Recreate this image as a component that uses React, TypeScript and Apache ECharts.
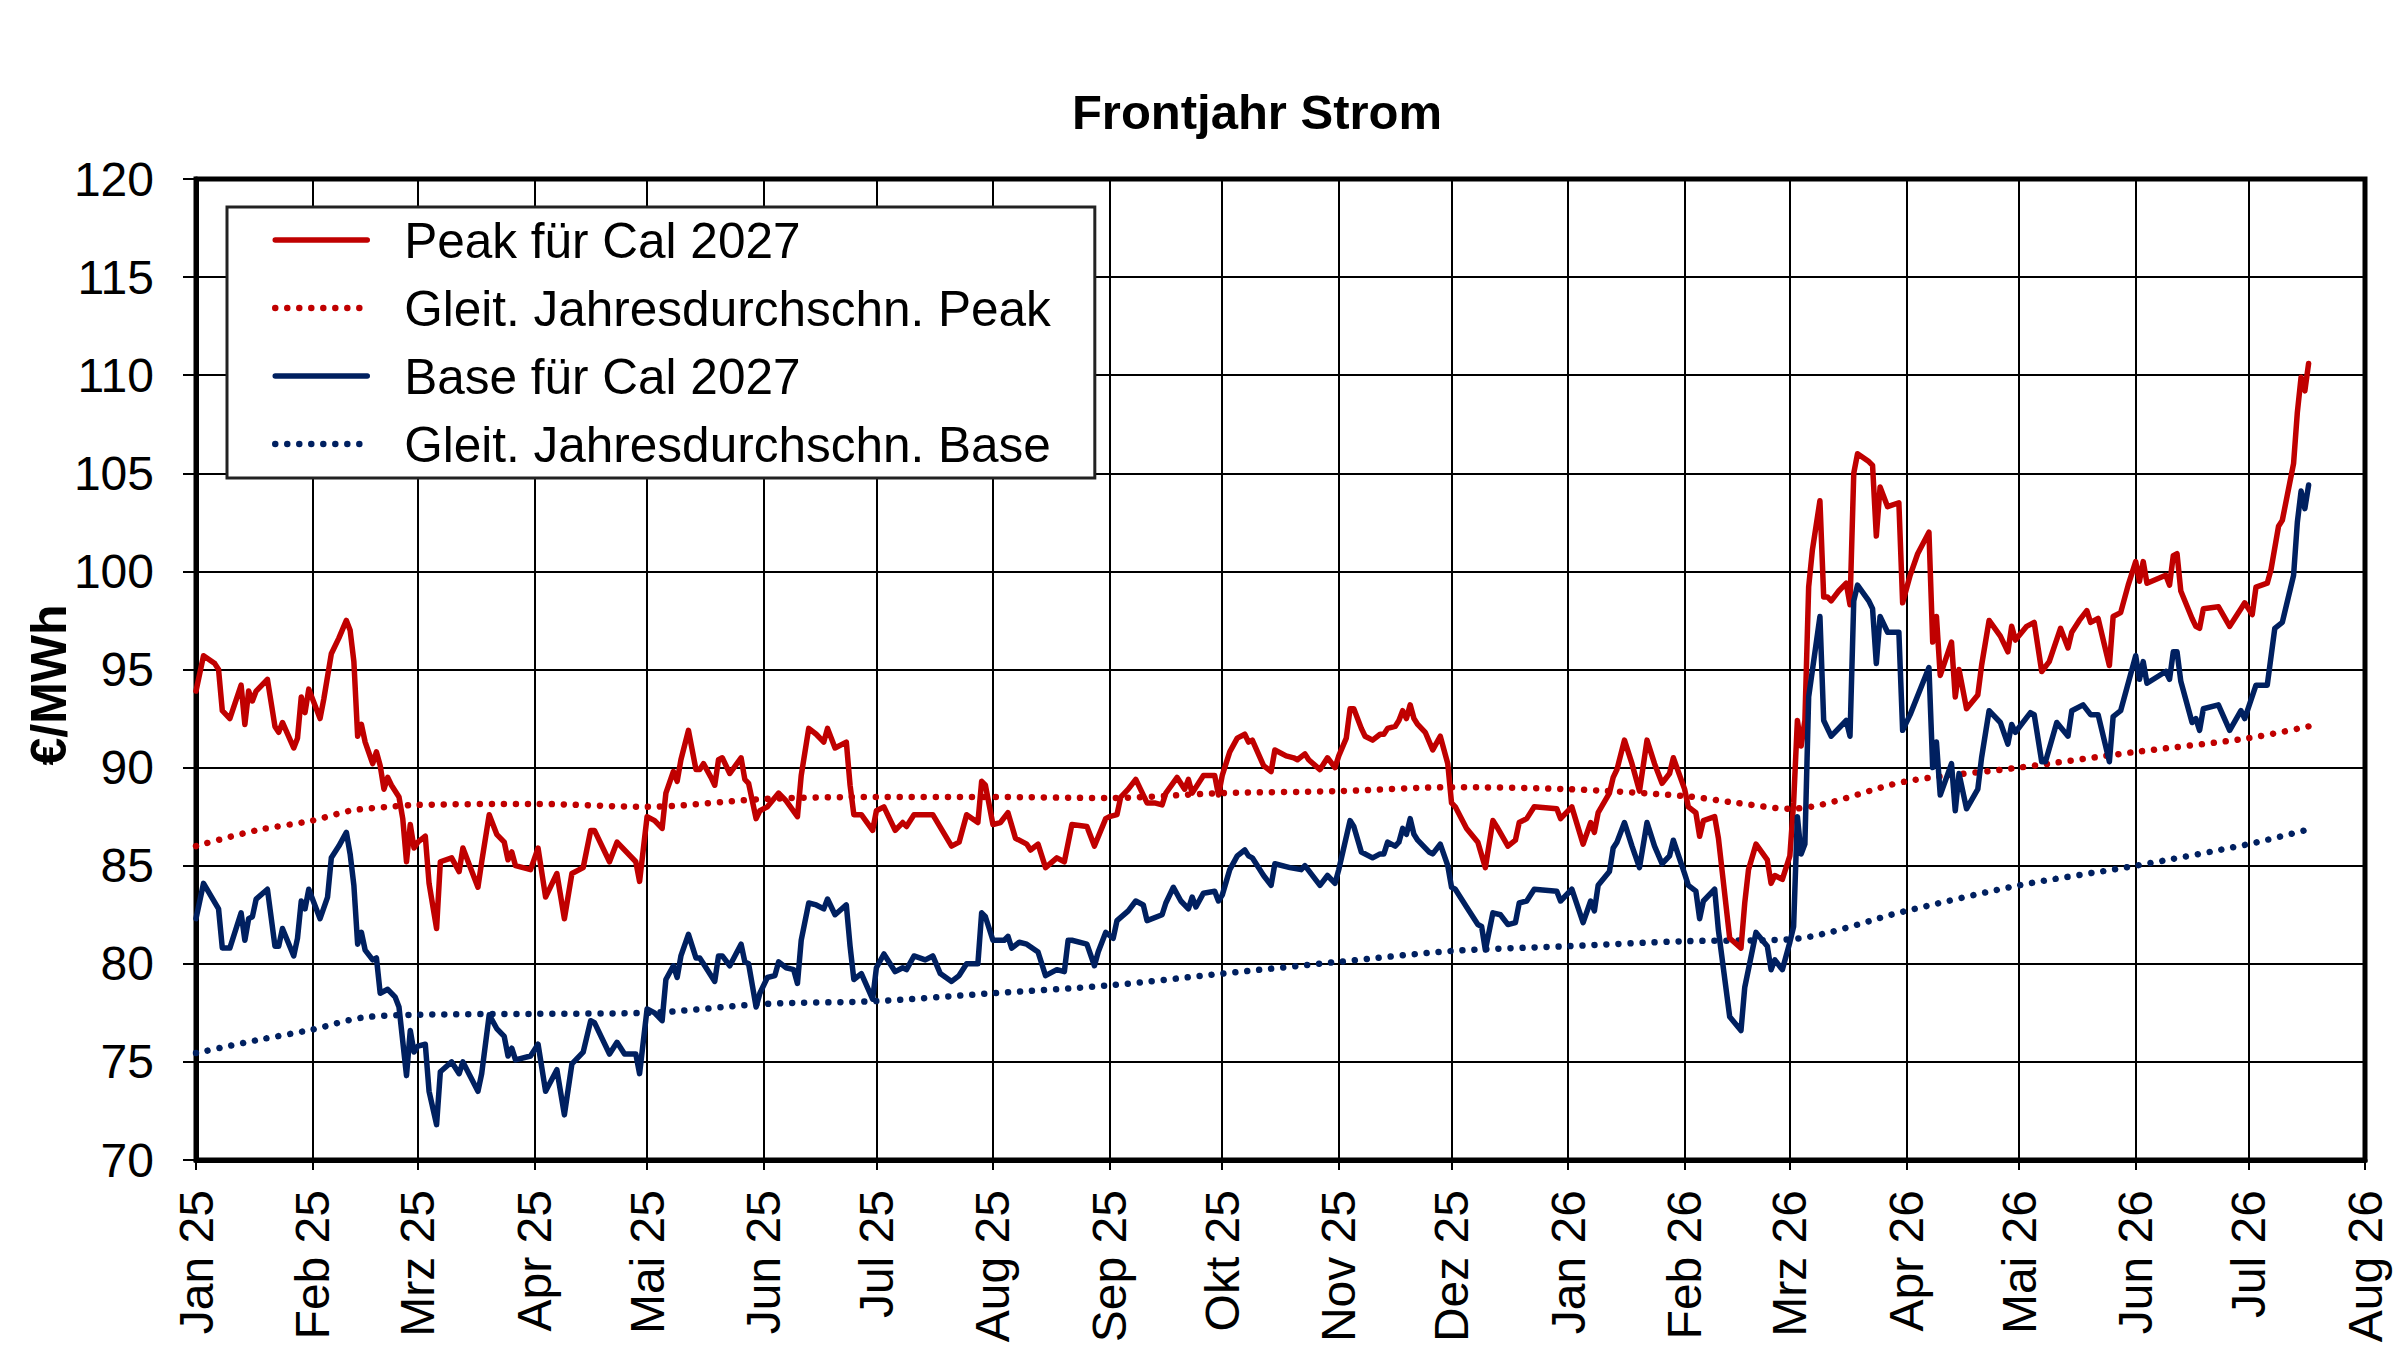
import React, { useEffect, useRef } from 'react';
import * as echarts from 'echarts';

const FONT = '"Liberation Sans", Arial, Helvetica, sans-serif';
const TITLE = 'Frontjahr Strom';
const Y_NAME = '€/MWh';
const MONTHS = ['Jan', 'Feb', 'Mrz', 'Apr', 'Mai', 'Jun', 'Jul', 'Aug', 'Sep', 'Okt', 'Nov', 'Dez'];
const SERIES_NAMES = [
  'Peak für Cal 2027',
  'Gleit. Jahresdurchschn. Peak',
  'Base für Cal 2027',
  'Gleit. Jahresdurchschn. Base',
];
const X_MIN = '2025-01-01';
const X_MAX = '2026-08-01';
const Y_MIN = 70;
const Y_MAX = 120;
const Y_STEP = 5;

const PEAK: [string, number][] = [
  ['2025-01-01', 93.9], ['2025-01-03', 95.7], ['2025-01-06', 95.3], ['2025-01-07', 95.0], ['2025-01-08', 92.9],
  ['2025-01-10', 92.5], ['2025-01-13', 94.2], ['2025-01-14', 92.2], ['2025-01-15', 93.9], ['2025-01-16', 93.4],
  ['2025-01-17', 93.9], ['2025-01-20', 94.5], ['2025-01-22', 92.1], ['2025-01-23', 91.8], ['2025-01-24', 92.3],
  ['2025-01-27', 91.0], ['2025-01-28', 91.5], ['2025-01-29', 93.6], ['2025-01-30', 92.8], ['2025-01-31', 94.0],
  ['2025-02-03', 92.5], ['2025-02-04', 93.5], ['2025-02-06', 95.8], ['2025-02-08', 96.6], ['2025-02-10', 97.5],
  ['2025-02-11', 97.0], ['2025-02-12', 95.4], ['2025-02-13', 91.6], ['2025-02-14', 92.2], ['2025-02-15', 91.3],
  ['2025-02-17', 90.2], ['2025-02-18', 90.8], ['2025-02-19', 90.1], ['2025-02-20', 88.9], ['2025-02-21', 89.5],
  ['2025-02-22', 89.1], ['2025-02-24', 88.5], ['2025-02-25', 87.4], ['2025-02-26', 85.2], ['2025-02-27', 87.1],
  ['2025-02-28', 85.9], ['2025-03-01', 86.2], ['2025-03-03', 86.5], ['2025-03-04', 84.1], ['2025-03-06', 81.8],
  ['2025-03-07', 85.2], ['2025-03-10', 85.4], ['2025-03-12', 84.7], ['2025-03-13', 85.9], ['2025-03-17', 83.9],
  ['2025-03-18', 85.2], ['2025-03-20', 87.6], ['2025-03-22', 86.6], ['2025-03-24', 86.2], ['2025-03-25', 85.3],
  ['2025-03-26', 85.7], ['2025-03-27', 85.0], ['2025-03-31', 84.8], ['2025-04-02', 85.9], ['2025-04-04', 83.4],
  ['2025-04-07', 84.6], ['2025-04-09', 82.3], ['2025-04-11', 84.6], ['2025-04-14', 84.9], ['2025-04-16', 86.8],
  ['2025-04-17', 86.8], ['2025-04-21', 85.2], ['2025-04-23', 86.2], ['2025-04-28', 85.2], ['2025-04-29', 84.2],
  ['2025-05-01', 87.5], ['2025-05-03', 87.3], ['2025-05-05', 86.9], ['2025-05-06', 88.7], ['2025-05-08', 89.8],
  ['2025-05-09', 89.3], ['2025-05-10', 90.4], ['2025-05-12', 91.9], ['2025-05-14', 89.9], ['2025-05-15', 89.9],
  ['2025-05-16', 90.2], ['2025-05-18', 89.5], ['2025-05-19', 89.1], ['2025-05-20', 90.4], ['2025-05-21', 90.5],
  ['2025-05-23', 89.7], ['2025-05-26', 90.5], ['2025-05-27', 89.4], ['2025-05-28', 89.2], ['2025-05-30', 87.4],
  ['2025-05-31', 87.8], ['2025-06-02', 88.0], ['2025-06-05', 88.7], ['2025-06-07', 88.3], ['2025-06-10', 87.5],
  ['2025-06-11', 89.6], ['2025-06-13', 92.0], ['2025-06-15', 91.7], ['2025-06-17', 91.3], ['2025-06-18', 92.0],
  ['2025-06-20', 91.0], ['2025-06-23', 91.3], ['2025-06-24', 89.1], ['2025-06-25', 87.6], ['2025-06-27', 87.6],
  ['2025-06-30', 86.8], ['2025-07-01', 87.8], ['2025-07-03', 88.0], ['2025-07-06', 86.8], ['2025-07-08', 87.2],
  ['2025-07-09', 87.0], ['2025-07-11', 87.6], ['2025-07-16', 87.6], ['2025-07-21', 86.0], ['2025-07-23', 86.2],
  ['2025-07-25', 87.6], ['2025-07-28', 87.2], ['2025-07-29', 89.3], ['2025-07-30', 89.1], ['2025-08-01', 87.1],
  ['2025-08-03', 87.2], ['2025-08-05', 87.7], ['2025-08-07', 86.4], ['2025-08-10', 86.1], ['2025-08-11', 85.8],
  ['2025-08-13', 86.1], ['2025-08-15', 84.9], ['2025-08-18', 85.4], ['2025-08-20', 85.2], ['2025-08-22', 87.1],
  ['2025-08-26', 87.0], ['2025-08-28', 86.0], ['2025-08-31', 87.4], ['2025-09-01', 87.5], ['2025-09-03', 87.6],
  ['2025-09-04', 88.5], ['2025-09-06', 88.9], ['2025-09-08', 89.4], ['2025-09-11', 88.2], ['2025-09-13', 88.2],
  ['2025-09-15', 88.1], ['2025-09-16', 88.7], ['2025-09-19', 89.5], ['2025-09-21', 88.9], ['2025-09-22', 89.4],
  ['2025-09-23', 88.7], ['2025-09-26', 89.6], ['2025-09-29', 89.6], ['2025-09-30', 88.6], ['2025-10-01', 89.6],
  ['2025-10-03', 90.8], ['2025-10-05', 91.5], ['2025-10-07', 91.7], ['2025-10-08', 91.3], ['2025-10-09', 91.4],
  ['2025-10-12', 90.1], ['2025-10-14', 89.8], ['2025-10-15', 90.9], ['2025-10-18', 90.6], ['2025-10-20', 90.5],
  ['2025-10-21', 90.4], ['2025-10-23', 90.7], ['2025-10-24', 90.4], ['2025-10-27', 89.9], ['2025-10-29', 90.5],
  ['2025-10-31', 90.0], ['2025-11-01', 90.6], ['2025-11-03', 91.5], ['2025-11-04', 93.0], ['2025-11-05', 93.0],
  ['2025-11-07', 92.0], ['2025-11-08', 91.6], ['2025-11-10', 91.4], ['2025-11-12', 91.7], ['2025-11-13', 91.7],
  ['2025-11-14', 92.0], ['2025-11-16', 92.1], ['2025-11-17', 92.4], ['2025-11-18', 92.9], ['2025-11-19', 92.5],
  ['2025-11-20', 93.2], ['2025-11-21', 92.5], ['2025-11-22', 92.2], ['2025-11-24', 91.8], ['2025-11-26', 90.9],
  ['2025-11-28', 91.6], ['2025-11-29', 90.9], ['2025-11-30', 90.2], ['2025-12-01', 88.2], ['2025-12-02', 88.0],
  ['2025-12-05', 86.9], ['2025-12-08', 86.2], ['2025-12-10', 84.9], ['2025-12-12', 87.3], ['2025-12-13', 87.0],
  ['2025-12-16', 86.0], ['2025-12-18', 86.3], ['2025-12-19', 87.2], ['2025-12-21', 87.4], ['2025-12-23', 88.0],
  ['2025-12-29', 87.9], ['2025-12-30', 87.4], ['2026-01-02', 88.0], ['2026-01-05', 86.1], ['2026-01-07', 87.2],
  ['2026-01-08', 86.7], ['2026-01-09', 87.7], ['2026-01-12', 88.7], ['2026-01-13', 89.5], ['2026-01-14', 89.9],
  ['2026-01-16', 91.4], ['2026-01-18', 90.2], ['2026-01-20', 88.8], ['2026-01-22', 91.4], ['2026-01-24', 90.2],
  ['2026-01-26', 89.2], ['2026-01-28', 89.7], ['2026-01-29', 90.5], ['2026-02-01', 88.9], ['2026-02-02', 88.0],
  ['2026-02-04', 87.7], ['2026-02-05', 86.5], ['2026-02-06', 87.3], ['2026-02-09', 87.5], ['2026-02-10', 86.4],
  ['2026-02-13', 81.3], ['2026-02-16', 80.8], ['2026-02-17', 83.1], ['2026-02-18', 84.8], ['2026-02-20', 86.1],
  ['2026-02-23', 85.3], ['2026-02-24', 84.1], ['2026-02-25', 84.5], ['2026-02-27', 84.3], ['2026-03-01', 85.5],
  ['2026-03-02', 88.2], ['2026-03-03', 92.4], ['2026-03-04', 91.1], ['2026-03-05', 92.4], ['2026-03-06', 99.2],
  ['2026-03-07', 101.1], ['2026-03-09', 103.6], ['2026-03-10', 98.7], ['2026-03-11', 98.7], ['2026-03-12', 98.5],
  ['2026-03-14', 99.0], ['2026-03-16', 99.4], ['2026-03-17', 98.3], ['2026-03-18', 105.0], ['2026-03-19', 106.0],
  ['2026-03-22', 105.6], ['2026-03-23', 105.4], ['2026-03-24', 101.8], ['2026-03-25', 104.3], ['2026-03-27', 103.3],
  ['2026-03-30', 103.5], ['2026-03-31', 98.4], ['2026-04-02', 99.8], ['2026-04-04', 100.9], ['2026-04-07', 102.0],
  ['2026-04-08', 96.4], ['2026-04-09', 97.7], ['2026-04-10', 94.7], ['2026-04-13', 96.4], ['2026-04-14', 93.6],
  ['2026-04-15', 95.0], ['2026-04-17', 93.0], ['2026-04-20', 93.7], ['2026-04-21', 95.2], ['2026-04-23', 97.5],
  ['2026-04-26', 96.7], ['2026-04-28', 95.9], ['2026-04-29', 97.2], ['2026-04-30', 96.5], ['2026-05-03', 97.2],
  ['2026-05-05', 97.4], ['2026-05-07', 94.9], ['2026-05-09', 95.4], ['2026-05-12', 97.1], ['2026-05-14', 96.1],
  ['2026-05-15', 96.9], ['2026-05-17', 97.5], ['2026-05-19', 98.0], ['2026-05-20', 97.4], ['2026-05-22', 97.6],
  ['2026-05-25', 95.2], ['2026-05-26', 97.7], ['2026-05-28', 97.9], ['2026-05-30', 99.3], ['2026-06-01', 100.5],
  ['2026-06-02', 99.5], ['2026-06-03', 100.5], ['2026-06-04', 99.4], ['2026-06-09', 99.8], ['2026-06-10', 99.3],
  ['2026-06-11', 100.8], ['2026-06-12', 100.9], ['2026-06-13', 99.0], ['2026-06-16', 97.6], ['2026-06-17', 97.2],
  ['2026-06-18', 97.1], ['2026-06-19', 98.1], ['2026-06-23', 98.2], ['2026-06-26', 97.2], ['2026-06-29', 98.1],
  ['2026-06-30', 98.4], ['2026-07-02', 97.8], ['2026-07-03', 99.2], ['2026-07-06', 99.4], ['2026-07-07', 100.1],
  ['2026-07-09', 102.3], ['2026-07-10', 102.6], ['2026-07-13', 105.5], ['2026-07-14', 108.1], ['2026-07-15', 109.9],
  ['2026-07-16', 109.2], ['2026-07-17', 110.6],
];

const BASE: [string, number][] = [
  ['2025-01-01', 82.3], ['2025-01-03', 84.1], ['2025-01-07', 82.8], ['2025-01-08', 80.8], ['2025-01-10', 80.8],
  ['2025-01-13', 82.6], ['2025-01-14', 81.2], ['2025-01-15', 82.3], ['2025-01-16', 82.4], ['2025-01-17', 83.3],
  ['2025-01-20', 83.8], ['2025-01-22', 80.9], ['2025-01-23', 80.9], ['2025-01-24', 81.8], ['2025-01-27', 80.4],
  ['2025-01-28', 81.3], ['2025-01-29', 83.2], ['2025-01-30', 82.8], ['2025-01-31', 83.8], ['2025-02-03', 82.3],
  ['2025-02-05', 83.4], ['2025-02-06', 85.4], ['2025-02-08', 86.0], ['2025-02-10', 86.7], ['2025-02-11', 85.6],
  ['2025-02-12', 84.0], ['2025-02-13', 81.0], ['2025-02-14', 81.6], ['2025-02-15', 80.7], ['2025-02-17', 80.2],
  ['2025-02-18', 80.3], ['2025-02-19', 78.5], ['2025-02-21', 78.7], ['2025-02-23', 78.3], ['2025-02-24', 77.8],
  ['2025-02-26', 74.3], ['2025-02-27', 76.6], ['2025-02-28', 75.5], ['2025-03-01', 75.8], ['2025-03-03', 75.9],
  ['2025-03-04', 73.5], ['2025-03-06', 71.8], ['2025-03-07', 74.5], ['2025-03-10', 75.0], ['2025-03-12', 74.4],
  ['2025-03-13', 75.0], ['2025-03-17', 73.5], ['2025-03-18', 74.4], ['2025-03-20', 77.4], ['2025-03-22', 76.7],
  ['2025-03-24', 76.3], ['2025-03-25', 75.3], ['2025-03-26', 75.7], ['2025-03-27', 75.1], ['2025-03-31', 75.3],
  ['2025-04-02', 75.9], ['2025-04-04', 73.5], ['2025-04-07', 74.6], ['2025-04-09', 72.3], ['2025-04-11', 74.9],
  ['2025-04-14', 75.5], ['2025-04-16', 77.1], ['2025-04-17', 77.0], ['2025-04-21', 75.4], ['2025-04-23', 76.0],
  ['2025-04-25', 75.4], ['2025-04-28', 75.4], ['2025-04-29', 74.4], ['2025-05-01', 77.7], ['2025-05-03', 77.5],
  ['2025-05-05', 77.1], ['2025-05-06', 79.2], ['2025-05-08', 79.9], ['2025-05-09', 79.3], ['2025-05-10', 80.4],
  ['2025-05-12', 81.5], ['2025-05-14', 80.3], ['2025-05-15', 80.3], ['2025-05-16', 80.0], ['2025-05-19', 79.1],
  ['2025-05-20', 80.4], ['2025-05-21', 80.4], ['2025-05-23', 79.9], ['2025-05-26', 81.0], ['2025-05-27', 80.1],
  ['2025-05-28', 80.0], ['2025-05-30', 77.8], ['2025-05-31', 78.5], ['2025-06-02', 79.3], ['2025-06-04', 79.4],
  ['2025-06-05', 80.1], ['2025-06-07', 79.8], ['2025-06-09', 79.7], ['2025-06-10', 79.0], ['2025-06-11', 81.2],
  ['2025-06-13', 83.1], ['2025-06-15', 83.0], ['2025-06-17', 82.8], ['2025-06-18', 83.3], ['2025-06-20', 82.5],
  ['2025-06-23', 83.0], ['2025-06-24', 80.9], ['2025-06-25', 79.2], ['2025-06-27', 79.5], ['2025-06-30', 78.2],
  ['2025-07-01', 79.8], ['2025-07-03', 80.5], ['2025-07-06', 79.6], ['2025-07-08', 79.8], ['2025-07-09', 79.7],
  ['2025-07-11', 80.4], ['2025-07-14', 80.2], ['2025-07-16', 80.4], ['2025-07-18', 79.5], ['2025-07-21', 79.1],
  ['2025-07-23', 79.4], ['2025-07-25', 80.0], ['2025-07-28', 80.0], ['2025-07-29', 82.6], ['2025-07-30', 82.4],
  ['2025-08-01', 81.2], ['2025-08-04', 81.2], ['2025-08-05', 81.4], ['2025-08-06', 80.8], ['2025-08-08', 81.1],
  ['2025-08-10', 81.0], ['2025-08-13', 80.6], ['2025-08-15', 79.4], ['2025-08-18', 79.7], ['2025-08-20', 79.6],
  ['2025-08-21', 81.2], ['2025-08-22', 81.2], ['2025-08-26', 81.0], ['2025-08-28', 79.9], ['2025-08-29', 80.6],
  ['2025-08-31', 81.6], ['2025-09-02', 81.3], ['2025-09-03', 82.2], ['2025-09-06', 82.7], ['2025-09-08', 83.2],
  ['2025-09-10', 83.0], ['2025-09-11', 82.2], ['2025-09-15', 82.5], ['2025-09-16', 83.1], ['2025-09-18', 83.9],
  ['2025-09-20', 83.2], ['2025-09-22', 82.8], ['2025-09-23', 83.4], ['2025-09-24', 82.9], ['2025-09-26', 83.6],
  ['2025-09-29', 83.7], ['2025-09-30', 83.2], ['2025-10-01', 83.5], ['2025-10-03', 84.8], ['2025-10-05', 85.5],
  ['2025-10-07', 85.8], ['2025-10-08', 85.5], ['2025-10-09', 85.4], ['2025-10-12', 84.5], ['2025-10-14', 84.0],
  ['2025-10-15', 85.1], ['2025-10-19', 84.9], ['2025-10-22', 84.8], ['2025-10-23', 85.0], ['2025-10-27', 84.0],
  ['2025-10-29', 84.5], ['2025-10-31', 84.1], ['2025-11-01', 84.8], ['2025-11-04', 87.3], ['2025-11-05', 87.0],
  ['2025-11-07', 85.7], ['2025-11-10', 85.4], ['2025-11-12', 85.6], ['2025-11-13', 85.6], ['2025-11-14', 86.2],
  ['2025-11-16', 86.0], ['2025-11-17', 86.2], ['2025-11-18', 86.9], ['2025-11-19', 86.6], ['2025-11-20', 87.4],
  ['2025-11-21', 86.6], ['2025-11-22', 86.3], ['2025-11-25', 85.7], ['2025-11-26', 85.6], ['2025-11-28', 86.1],
  ['2025-11-30', 85.0], ['2025-12-01', 83.9], ['2025-12-02', 83.8], ['2025-12-05', 82.9], ['2025-12-08', 82.0],
  ['2025-12-09', 81.9], ['2025-12-10', 80.7], ['2025-12-12', 82.6], ['2025-12-14', 82.5], ['2025-12-16', 82.0],
  ['2025-12-18', 82.1], ['2025-12-19', 83.1], ['2025-12-21', 83.2], ['2025-12-23', 83.8], ['2025-12-29', 83.7],
  ['2025-12-30', 83.2], ['2026-01-02', 83.8], ['2026-01-05', 82.1], ['2026-01-07', 83.2], ['2026-01-08', 82.7],
  ['2026-01-09', 84.0], ['2026-01-12', 84.7], ['2026-01-13', 85.9], ['2026-01-14', 86.2], ['2026-01-16', 87.2],
  ['2026-01-18', 86.0], ['2026-01-20', 84.9], ['2026-01-22', 87.2], ['2026-01-24', 86.0], ['2026-01-26', 85.1],
  ['2026-01-28', 85.5], ['2026-01-29', 86.3], ['2026-02-01', 84.6], ['2026-02-02', 84.0], ['2026-02-04', 83.7],
  ['2026-02-05', 82.3], ['2026-02-06', 83.2], ['2026-02-09', 83.8], ['2026-02-10', 81.7], ['2026-02-13', 77.3],
  ['2026-02-16', 76.6], ['2026-02-17', 78.8], ['2026-02-20', 81.6], ['2026-02-23', 80.9], ['2026-02-24', 79.7],
  ['2026-02-25', 80.2], ['2026-02-27', 79.7], ['2026-03-01', 81.1], ['2026-03-02', 81.9], ['2026-03-03', 87.5],
  ['2026-03-04', 85.6], ['2026-03-05', 86.1], ['2026-03-06', 93.6], ['2026-03-09', 97.7], ['2026-03-10', 92.4],
  ['2026-03-12', 91.6], ['2026-03-16', 92.4], ['2026-03-17', 91.6], ['2026-03-18', 98.5], ['2026-03-19', 99.3],
  ['2026-03-22', 98.5], ['2026-03-23', 98.1], ['2026-03-24', 95.3], ['2026-03-25', 97.7], ['2026-03-27', 96.9],
  ['2026-03-30', 96.9], ['2026-03-31', 91.9], ['2026-04-02', 92.7], ['2026-04-07', 95.1], ['2026-04-08', 90.0],
  ['2026-04-09', 91.3], ['2026-04-10', 88.6], ['2026-04-13', 90.2], ['2026-04-14', 87.8], ['2026-04-15', 89.7],
  ['2026-04-17', 87.9], ['2026-04-20', 88.9], ['2026-04-21', 90.5], ['2026-04-23', 92.9], ['2026-04-26', 92.3],
  ['2026-04-28', 91.2], ['2026-04-29', 92.2], ['2026-04-30', 91.8], ['2026-05-04', 92.8], ['2026-05-05', 92.7],
  ['2026-05-07', 90.3], ['2026-05-08', 90.3], ['2026-05-11', 92.3], ['2026-05-14', 91.6], ['2026-05-15', 92.9],
  ['2026-05-18', 93.2], ['2026-05-20', 92.7], ['2026-05-22', 92.7], ['2026-05-25', 90.3], ['2026-05-26', 92.6],
  ['2026-05-28', 92.9], ['2026-06-01', 95.7], ['2026-06-02', 94.5], ['2026-06-03', 95.4], ['2026-06-04', 94.3],
  ['2026-06-09', 94.9], ['2026-06-10', 94.5], ['2026-06-11', 95.9], ['2026-06-12', 95.9], ['2026-06-13', 94.4],
  ['2026-06-16', 92.3], ['2026-06-17', 92.5], ['2026-06-18', 91.9], ['2026-06-19', 93.0], ['2026-06-23', 93.2],
  ['2026-06-26', 91.9], ['2026-06-29', 92.9], ['2026-06-30', 92.5], ['2026-07-03', 94.2], ['2026-07-06', 94.2],
  ['2026-07-08', 97.1], ['2026-07-10', 97.4], ['2026-07-13', 99.8], ['2026-07-14', 102.5], ['2026-07-15', 104.1],
  ['2026-07-16', 103.2], ['2026-07-17', 104.4],
];

const PEAK_AVG: [string, number][] = [
  ['2025-01-01', 86.0], ['2025-01-17', 86.8], ['2025-02-01', 87.3], ['2025-02-11', 87.8], ['2025-02-21', 88.0],
  ['2025-03-01', 88.1], ['2025-04-01', 88.15], ['2025-05-01', 88.0], ['2025-06-01', 88.4], ['2025-07-01', 88.5],
  ['2025-08-01', 88.5], ['2025-09-01', 88.45], ['2025-10-01', 88.7], ['2025-11-01', 88.8], ['2025-12-01', 89.0],
  ['2026-01-01', 88.9], ['2026-02-01', 88.55], ['2026-02-15', 88.2], ['2026-03-01', 87.9], ['2026-04-01', 89.3],
  ['2026-05-01', 90.0], ['2026-06-01', 90.8], ['2026-07-01', 91.5], ['2026-07-17', 92.1],
];

const BASE_AVG: [string, number][] = [
  ['2025-01-01', 75.45], ['2025-01-17', 76.1], ['2025-02-01', 76.65], ['2025-02-14', 77.25], ['2025-03-01', 77.4],
  ['2025-04-01', 77.45], ['2025-05-01', 77.5], ['2025-06-01', 77.95], ['2025-07-01', 78.1], ['2025-08-01', 78.5],
  ['2025-09-01', 78.9], ['2025-10-01', 79.5], ['2025-11-01', 80.1], ['2025-12-01', 80.65], ['2026-01-01', 80.9],
  ['2026-02-01', 81.15], ['2026-03-01', 81.25], ['2026-04-01', 82.7], ['2026-05-01', 84.0], ['2026-06-01', 85.0],
  ['2026-07-01', 86.1], ['2026-07-17', 86.85],
];

const RED = '#C00000';
const NAVY = '#002060';
const DAY = 86400000;

const ts = (s: string) => {
  const [y, m, d] = s.split('-').map(Number);
  return Date.UTC(y, m - 1, d);
};
const toData = (arr: [string, number][]) => arr.map(([d, v]) => [ts(d), v]);

export default function App() {
  const ref = useRef<HTMLDivElement>(null);

  useEffect(() => {
    document.body.style.margin = '0';
    if (!ref.current) return;
    const chart = echarts.init(ref.current, null, { renderer: 'svg' });

    const solid = (name: string, color: string, data: [string, number][]) => ({
      name,
      type: 'line',
      data: toData(data),
      showSymbol: false,
      symbol: 'none',
      z: 4,
      lineStyle: { color, width: 5.5, join: 'round', cap: 'round' },
      itemStyle: { color },
    });
    const dotted = (name: string, color: string, data: [string, number][]) => ({
      name,
      type: 'line',
      data: toData(data),
      showSymbol: false,
      symbol: 'none',
      smooth: 0.3,
      z: 3,
      lineStyle: { color, width: 6.5, type: [0.01, 12], cap: 'round' },
      itemStyle: { color },
    });

    chart.setOption({
      animation: false,
      useUTC: true,
      backgroundColor: '#ffffff',
      textStyle: { fontFamily: FONT },
      grid: {
        left: 196,
        top: 179,
        width: 2169,
        height: 981,
        show: true,
        borderColor: '#000',
        borderWidth: 5,
        backgroundColor: 'transparent',
        containLabel: false,
        outerBoundsMode: 'none',
      },
      graphic: [
        {
          type: 'text',
          x: 1257,
          y: 112,
          style: {
            text: TITLE,
            fill: '#000',
            font: `bold 49px ${FONT}`,
            textAlign: 'center',
            textVerticalAlign: 'middle',
          },
        },
        {
          type: 'text',
          x: 49,
          y: 685,
          rotation: Math.PI / 2,
          style: {
            text: Y_NAME,
            fill: '#000',
            font: `bold 50px ${FONT}`,
            textAlign: 'center',
            textVerticalAlign: 'middle',
          },
        },
      ],
      legend: {
        orient: 'vertical',
        left: 227,
        top: 207,
        backgroundColor: '#fff',
        borderColor: '#222',
        borderWidth: 3,
        borderRadius: 0,
        padding: [8, 44, 9, 45],
        itemWidth: 92,
        itemHeight: 50,
        itemGap: 18,
        itemStyle: { opacity: 0, borderWidth: 0, color: 'transparent' },
        lineStyle: { width: 'inherit', cap: 'inherit' },
        textStyle: {
          fontSize: 49.5,
          color: '#000',
          fontFamily: FONT,
          lineHeight: 50,
          padding: [0, 0, 0, 32],
        },
        data: SERIES_NAMES,
      },
      xAxis: {
        type: 'time',
        min: ts(X_MIN),
        max: ts(X_MAX),
        splitNumber: 19,
        minInterval: 28 * DAY,
        maxInterval: 31 * DAY,
        axisLine: { show: true, onZero: false, lineStyle: { color: '#000', width: 5 } },
        axisTick: { show: true, length: 10, lineStyle: { color: '#000', width: 2 } },
        axisLabel: {
          rotate: 90,
          margin: 30,
          fontSize: 48,
          color: '#000',
          fontFamily: FONT,
          showMinLabel: true,
          showMaxLabel: true,
          hideOverlap: false,
          formatter: (v: number) => {
            const d = new Date(v);
            return `${MONTHS[d.getUTCMonth()]} ${String(d.getUTCFullYear()).slice(2)}`;
          },
        },
        splitLine: { show: true, lineStyle: { color: '#000', width: 2 } },
      },
      yAxis: {
        type: 'value',
        min: Y_MIN,
        max: Y_MAX,
        interval: Y_STEP,
        axisLine: { show: true, lineStyle: { color: '#000', width: 5 } },
        axisTick: { show: true, length: 13, lineStyle: { color: '#000', width: 2 } },
        axisLabel: { fontSize: 48, color: '#000', margin: 42, fontFamily: FONT },
        splitLine: { show: true, lineStyle: { color: '#000', width: 2 } },
      },
      series: [
        solid(SERIES_NAMES[0], RED, PEAK),
        dotted(SERIES_NAMES[1], RED, PEAK_AVG),
        solid(SERIES_NAMES[2], NAVY, BASE),
        dotted(SERIES_NAMES[3], NAVY, BASE_AVG),
      ],
    });

    return () => chart.dispose();
  }, []);

  return (
    <div
      ref={ref}
      style={{ position: 'absolute', left: 0, top: 0, width: 2400, height: 1370, background: '#fff' }}
    />
  );
}
